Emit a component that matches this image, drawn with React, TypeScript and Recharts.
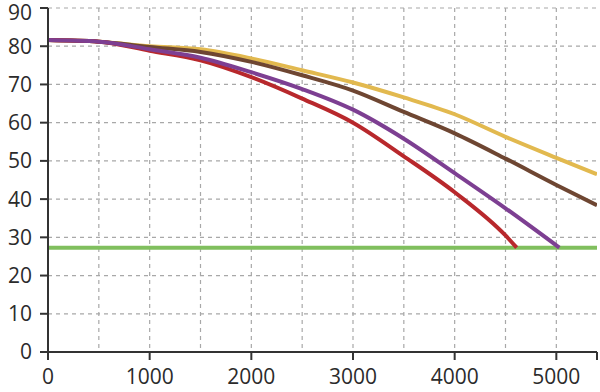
import { LineChart, Line, XAxis, YAxis, CartesianGrid } from 'recharts';

// x positions shared by the two full-length curves
const xVals = [0, 500, 1000, 1500, 2000, 2500, 3000, 3500, 4000, 4500, 5000, 5400];

const yellowVals = [81.6, 81.2, 80.0, 79.2, 76.8, 73.7, 70.5, 66.6, 62.2, 56.3, 50.8, 46.5];
const brownVals = [81.6, 81.2, 79.8, 78.5, 75.9, 72.4, 68.4, 62.8, 57.2, 50.6, 43.7, 38.4];
const purpleX = [0, 500, 1000, 1500, 2000, 2500, 3000, 3500, 4000, 4500, 5030];
const purpleVals = [81.6, 81.2, 79.2, 77.0, 73.2, 68.8, 63.4, 55.8, 46.8, 37.6, 27.3];
const redX = [0, 500, 1000, 1500, 2000, 2500, 3000, 3500, 4000, 4500, 4610];
const redVals = [81.6, 81.2, 78.8, 76.3, 71.9, 66.3, 60.0, 51.2, 41.8, 30.5, 27.3];
const greenX = [0, 5400];
const greenVals = [27.3, 27.3];

const xTicks = [0, 1000, 2000, 3000, 4000, 5000, 5400];
const gridXTicks = [500, 1000, 1500, 2000, 2500, 3000, 3500, 4000, 4500, 5000];
const yTicks = [0, 10, 20, 30, 40, 50, 60, 70, 80, 90];

const toPoints = (xs: number[], ys: number[]) => xs.map((x, i) => ({ x, y: ys[i] }));

const tickStyle = { fontSize: 21, fill: '#2b2b2b', fontFamily: 'Open Sans' };

const App = () => {
  return (
    <div style={{ position: 'absolute', left: 0, top: 0, background: '#fff' }}>
      <LineChart width={600} height={392} margin={{ top: 8, right: 3, bottom: 0, left: 0 }}>
        <CartesianGrid
          strokeDasharray="4 4"
          stroke="#a8a8a8"
          strokeWidth={1.2}
          verticalValues={gridXTicks}
          horizontalValues={yTicks}
        />
        <XAxis
          type="number"
          dataKey="x"
          domain={[0, 5400]}
          ticks={xTicks}
          tickFormatter={(v: number) => (v === 5400 ? '' : String(v))}
          tick={tickStyle}
          tickSize={8}
          tickMargin={9}
          height={40}
          stroke="#333"
          strokeWidth={2}
          allowDataOverflow
        />
        <YAxis
          type="number"
          domain={[0, 90]}
          ticks={yTicks}
          tick={tickStyle}
          tickSize={8}
          tickMargin={8}
          width={48}
          stroke="#333"
          strokeWidth={2}
        />
        <YAxis
          yAxisId="right"
          orientation="right"
          type="number"
          domain={[0, 90]}
          tick={false}
          tickLine={false}
          width={0}
          stroke="#333"
          strokeWidth={3}
        />
        <Line data={toPoints(greenX, greenVals)} dataKey="y" stroke="#80bf5e" strokeWidth={4} dot={false} isAnimationActive={false} />
        <Line data={toPoints(xVals, yellowVals)} dataKey="y" type="monotone" stroke="#e2b94f" strokeWidth={4} dot={false} isAnimationActive={false} />
        <Line data={toPoints(xVals, brownVals)} dataKey="y" type="monotone" stroke="#6e4632" strokeWidth={4} dot={false} isAnimationActive={false} />
        <Line data={toPoints(redX, redVals)} dataKey="y" type="monotone" stroke="#b8282c" strokeWidth={4} dot={false} isAnimationActive={false} />
        <Line data={toPoints(purpleX, purpleVals)} dataKey="y" type="monotone" stroke="#7d3f92" strokeWidth={4} dot={false} isAnimationActive={false} />
      </LineChart>
    </div>
  );
};

export default App;
